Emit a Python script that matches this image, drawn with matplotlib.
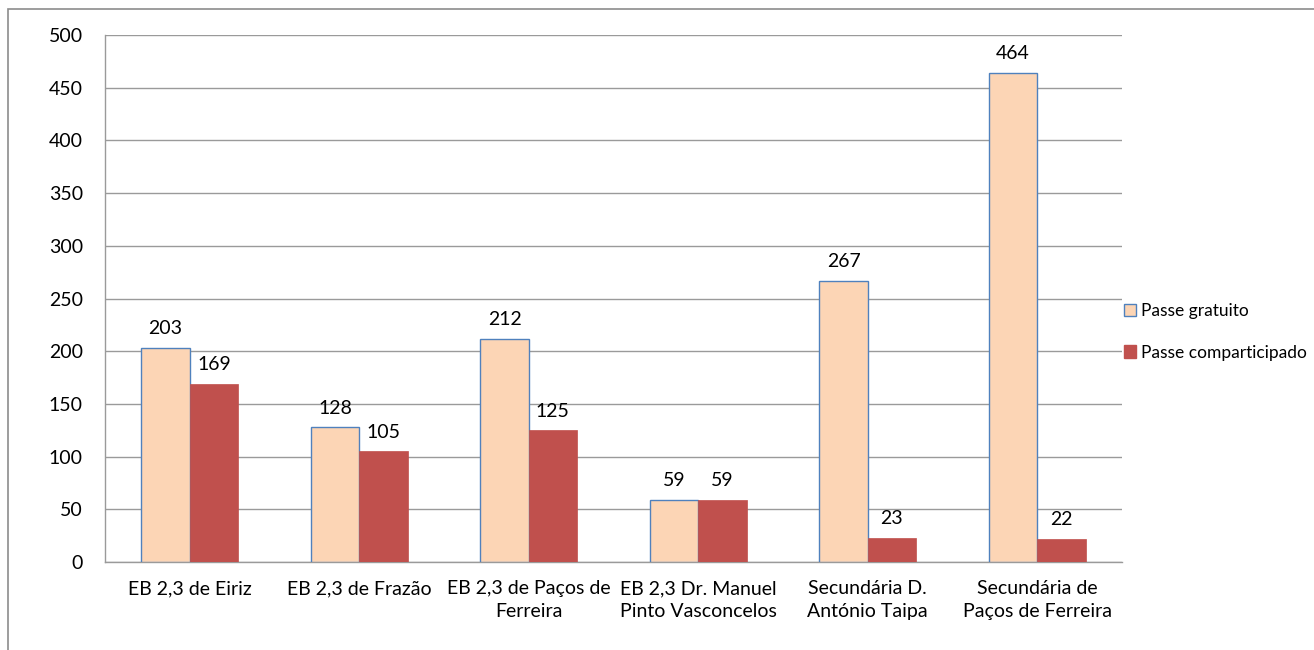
import matplotlib.pyplot as plt
import numpy as np
from matplotlib.patches import Rectangle, Patch

plt.rcParams['font.family'] = ['Lato', 'DejaVu Sans']

escolas = ['EB 2,3 de Eiriz', 'EB 2,3 de Frazão', 'EB 2,3 de Paços de\nFerreira',
           'EB 2,3 Dr. Manuel\nPinto Vasconcelos', 'Secundária D.\nAntónio Taipa',
           'Secundária de\nPaços de Ferreira']
gratuito = [203, 128, 212, 59, 267, 464]
comparticipado = [169, 105, 125, 59, 23, 22]

fs = 14

fig = plt.figure(figsize=(13.14, 6.5), dpi=100)
ax = fig.add_axes([105/1314, 1 - 562/650, (1122 - 105)/1314, (562 - 35)/650])

# moldura do gráfico
fig.patches.append(Rectangle((8/1314, -0.1), 1.2, 1 - 9/650 + 0.1, transform=fig.transFigure,
                             fill=False, edgecolor='#8c8c8c', linewidth=1.2))

x = np.arange(len(escolas))
w = 0.285
b1 = ax.bar(x - w/2, gratuito, w, color='#FCD5B5', edgecolor='#4F81BD', linewidth=1.0,
            label='Passe gratuito', zorder=3)
b2 = ax.bar(x + w/2, comparticipado, w, color='#C0504D', edgecolor='#C0504D', linewidth=0.5,
            label='Passe comparticipado', zorder=3)

for rect in list(b1) + list(b2):
    h = rect.get_height()
    ax.text(rect.get_x() + rect.get_width()/2, h + 10, '%d' % h, ha='center', va='bottom',
            fontsize=fs)

ax.set_xlim(-0.5, len(escolas) - 0.5)
ax.set_ylim(0, 500)
ax.set_yticks(range(0, 501, 50))
ax.set_xticks(x)
ax.set_xticklabels(escolas, fontsize=fs, linespacing=1.4)
ax.tick_params(axis='y', length=0, pad=16, labelsize=fs)
ax.tick_params(axis='x', length=0, pad=13)
ax.grid(axis='y', color='#9a9a9a', linewidth=1.0, zorder=0)
for s in ['top', 'right']:
    ax.spines[s].set_visible(False)
for s in ['left', 'bottom']:
    ax.spines[s].set_color('#9a9a9a')
    ax.spines[s].set_linewidth(1.0)

handles = [Patch(facecolor='#FCD5B5', edgecolor='#4F81BD', linewidth=1.0, label='Passe gratuito'),
           Patch(facecolor='#C0504D', edgecolor='#C0504D', label='Passe comparticipado')]
fig.legend(handles=handles, loc='center left', bbox_to_anchor=(1124/1314, 1 - 332/650),
           frameon=False, fontsize=12.5, handlelength=0.7, handleheight=0.7,
           handletextpad=0.3, labelspacing=1.45, borderaxespad=0, borderpad=0)

fig.savefig('out.png', dpi=100)
